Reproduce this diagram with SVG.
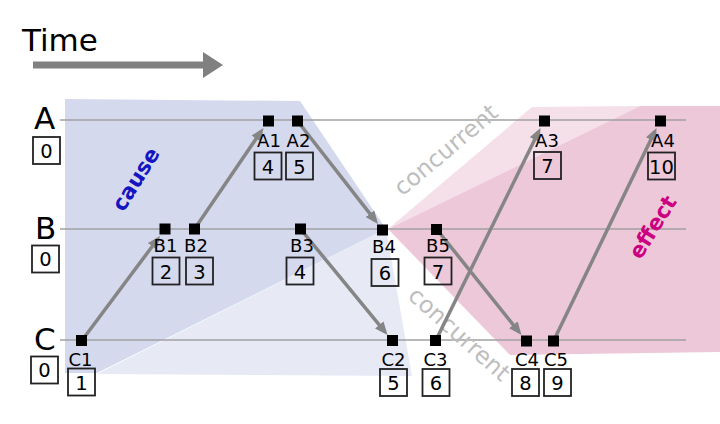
<svg xmlns="http://www.w3.org/2000/svg" width="720" height="424" viewBox="0 0 720 424">
<defs>
<marker id="ah" viewBox="0 0 13 11" refX="9" refY="5.5" markerWidth="13" markerHeight="11" markerUnits="userSpaceOnUse" orient="auto">
<path d="M0,0 L13,5.5 L0,11 Z" fill="#858585"/>
</marker>
<style>
text{font-family:"DejaVu Sans","Liberation Sans",sans-serif;}
.tl{stroke:#a0a0a0;stroke-width:1.5;fill:none;}
.ev{fill:#000;}
.lb{font-size:18px;fill:#000;text-anchor:middle;}
.bx{fill:none;stroke:#222;stroke-width:1.8;}
.num{font-size:19.5px;fill:#000;text-anchor:middle;}
.big{font-size:31px;fill:#000;}
.cn{stroke:#858585;stroke-width:3.5;fill:none;marker-end:url(#ah);}
.conc{font-size:23.5px;fill:#bdbdbd;text-anchor:middle;}
</style>
</defs>
<rect width="720" height="424" fill="#fff"/>
<g id="regions">
<polygon points="65,99 300,101 386,229 97,373 65,373" fill="#d5d9ee"/>
<polygon points="386,229 412,376 97,374" fill="#e7e9f5"/>
<polygon points="388,229 532,107 640,106" fill="#f5dfe9"/>
<polygon points="388,229 640,106 720,106 720,352 510,355" fill="#edc8d8"/>
</g>
<g id="title">
<text x="22" y="51" class="big">Time</text>
<path d="M33,65 H205" stroke="#808080" stroke-width="7" fill="none"/>
<polygon points="203,52 223,65 203,78" fill="#808080"/>
</g>
<g id="timelines">
<line class="tl" x1="60" y1="120" x2="686" y2="120"/>
<line class="tl" x1="60" y1="229" x2="686" y2="229"/>
<line class="tl" x1="60" y1="340" x2="686" y2="340"/>
</g>
<g id="region-labels">
<text class="conc" transform="translate(451,156) rotate(-40)">concurrent</text>
<text class="conc" transform="translate(454,340) rotate(42)">concurrent</text>
<text transform="translate(142,183) rotate(-58)" font-size="21.5" font-weight="bold" fill="#1414c0" text-anchor="middle">cause</text>
<text transform="translate(659,231) rotate(-58)" font-size="21.5" font-weight="bold" fill="#cc0080" text-anchor="middle">effect</text>
</g>
<g id="process-A">
<text x="34" y="129" class="big">A</text>
<rect class="bx" x="33" y="137" width="27" height="27"/>
<text x="46.5" y="157.5" class="num">0</text>
</g>
<g id="process-B">
<text x="35" y="239" class="big">B</text>
<rect class="bx" x="32" y="245.5" width="27" height="27"/>
<text x="45.5" y="266" class="num">0</text>
</g>
<g id="process-C">
<text x="34" y="350" class="big">C</text>
<rect class="bx" x="31" y="356.5" width="27" height="27"/>
<text x="44.5" y="377" class="num">0</text>
</g>
<g id="connectors">
<line class="cn" x1="81.5" y1="341" x2="157.6" y2="239.2"/>
<line class="cn" x1="194.5" y1="229" x2="261.2" y2="131.3"/>
<line class="cn" x1="297.5" y1="121" x2="375.5" y2="220.8"/>
<line class="cn" x1="300.5" y1="229" x2="385" y2="331.9"/>
<line class="cn" x1="435.5" y1="341" x2="538.7" y2="131.6"/>
<line class="cn" x1="436.5" y1="229" x2="519" y2="331.9"/>
<line class="cn" x1="553.5" y1="341" x2="654.8" y2="131.6"/>
</g>
<g id="A1"><rect class="ev" x="263" y="115.5" width="11" height="11"/><text class="lb" x="269" y="147">A1</text><rect class="bx" x="254.5" y="152.5" width="27" height="27"/><text class="num" x="268" y="173.5">4</text></g>
<g id="A2"><rect class="ev" x="292" y="115.5" width="11" height="11"/><text class="lb" x="298.5" y="147">A2</text><rect class="bx" x="286" y="152.5" width="27" height="27"/><text class="num" x="299.5" y="173.5">5</text></g>
<g id="A3"><rect class="ev" x="539" y="115.5" width="11" height="11"/><text class="lb" x="547" y="147">A3</text><rect class="bx" x="534" y="152" width="27" height="27"/><text class="num" x="547.5" y="173">7</text></g>
<g id="A4"><rect class="ev" x="655" y="115.5" width="11" height="11"/><text class="lb" x="663" y="147">A4</text><rect class="bx" x="648" y="152.5" width="27" height="27"/><text class="num" x="661.5" y="173.5">10</text></g>
<g id="B1"><rect class="ev" x="159.5" y="223.5" width="11" height="11"/><text class="lb" x="165.5" y="252">B1</text><rect class="bx" x="152.5" y="257.5" width="27" height="27"/><text class="num" x="166" y="278.5">2</text></g>
<g id="B2"><rect class="ev" x="189" y="223.5" width="11" height="11"/><text class="lb" x="196" y="252">B2</text><rect class="bx" x="186" y="257.5" width="27" height="27"/><text class="num" x="199.5" y="278.5">3</text></g>
<g id="B3"><rect class="ev" x="295" y="223.5" width="11" height="11"/><text class="lb" x="302" y="252">B3</text><rect class="bx" x="286.5" y="257.5" width="27" height="27"/><text class="num" x="300" y="278.5">4</text></g>
<g id="B4"><rect class="ev" x="377" y="224.5" width="11" height="11"/><text class="lb" x="384" y="253">B4</text><rect class="bx" x="371.5" y="259" width="27" height="27"/><text class="num" x="385" y="280">6</text></g>
<g id="B5"><rect class="ev" x="431" y="224" width="11" height="11"/><text class="lb" x="438" y="252">B5</text><rect class="bx" x="424.5" y="257.5" width="27" height="27"/><text class="num" x="438" y="278.5">7</text></g>
<g id="C1"><rect class="ev" x="76" y="335" width="11" height="11"/><text class="lb" x="80.5" y="366">C1</text><rect class="bx" x="68" y="368.5" width="27" height="27"/><text class="num" x="81.5" y="389.5">1</text></g>
<g id="C2"><rect class="ev" x="387" y="335" width="11" height="11"/><text class="lb" x="393.5" y="366">C2</text><rect class="bx" x="380" y="369" width="27" height="27"/><text class="num" x="393.5" y="390">5</text></g>
<g id="C3"><rect class="ev" x="430" y="335" width="11" height="11"/><text class="lb" x="435.5" y="366">C3</text><rect class="bx" x="422.5" y="369" width="27" height="27"/><text class="num" x="436" y="390">6</text></g>
<g id="C4"><rect class="ev" x="521" y="335.5" width="11" height="11"/><text class="lb" x="527" y="366">C4</text><rect class="bx" x="512" y="369" width="27" height="27"/><text class="num" x="525.5" y="390">8</text></g>
<g id="C5"><rect class="ev" x="548" y="335.5" width="11" height="11"/><text class="lb" x="556" y="366">C5</text><rect class="bx" x="544" y="369" width="27" height="27"/><text class="num" x="557.5" y="390">9</text></g>
</svg>
